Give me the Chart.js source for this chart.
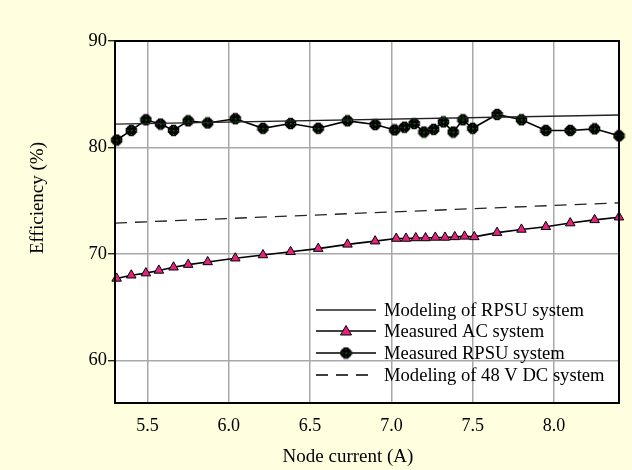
<!DOCTYPE html>
<html>
<head>
<meta charset="utf-8">
<script src="https://cdn.jsdelivr.net/npm/chart.js@4"></script>
<style>
  html, body { margin: 0; padding: 0; background: #ffffe0; }
  #wrap { width: 632px; height: 470px; }
</style>
</head>
<body>
<div id="wrap"><canvas id="effChart" width="632" height="470"></canvas></div>
<script>
// --- data ---
const modelX = [5.3, 8.4];
const modelRpsu = [82.2, 83.05];
const model48dc = [72.9, 74.8];

const acX = [5.31, 5.40, 5.49, 5.57, 5.66, 5.75, 5.87, 6.04, 6.21, 6.38, 6.55, 6.73, 6.90,
             7.03, 7.09, 7.15, 7.21, 7.27, 7.33, 7.39, 7.45, 7.51, 7.65, 7.80, 7.95, 8.10, 8.25, 8.40];
const acEff = [67.7, 68.0, 68.2, 68.45, 68.75, 69.0, 69.25, 69.6, 69.9, 70.2, 70.5, 70.9, 71.2,
               71.45, 71.45, 71.5, 71.5, 71.55, 71.55, 71.6, 71.65, 71.6, 72.0, 72.3, 72.55, 72.9, 73.2, 73.45];

const rpsuX = [5.31, 5.40, 5.49, 5.58, 5.66, 5.75, 5.87, 6.04, 6.21, 6.38, 6.55, 6.73, 6.90,
               7.02, 7.08, 7.14, 7.20, 7.26, 7.32, 7.38, 7.44, 7.50, 7.65, 7.80, 7.95, 8.10, 8.25, 8.40];
const rpsuEff = [80.7, 81.6, 82.6, 82.2, 81.6, 82.5, 82.3, 82.7, 81.8, 82.25, 81.8, 82.5, 82.15,
                 81.65, 81.9, 82.25, 81.45, 81.7, 82.4, 81.45, 82.6, 81.8, 83.1, 82.6, 81.6, 81.6, 81.75, 81.1];

const xTicks = [5.5, 6.0, 6.5, 7.0, 7.5, 8.0];
const yTicks = [60, 70, 80, 90];

const seriesNames = ['Modeling of RPSU system', 'Measured AC system',
                     'Measured RPSU system', 'Modeling of 48 V DC system'];

const SERIF = '"Liberation Serif", "DejaVu Serif", serif';

function pts(xs, ys) {
    return xs.map((x, i) => ({ x: x, y: ys[i] }));
}

// black blob with green specks, like the RPSU markers
function rpsuMarker() {
    const c = document.createElement('canvas');
    c.width = 13; c.height = 13;
    const g = c.getContext('2d');
    g.fillStyle = '#030503';
    g.beginPath();
    g.arc(6.5, 6.5, 5.5, 0, Math.PI * 2);
    g.fill();
    g.fillRect(4, 0.8, 5, 11.4);
    g.fillRect(0.8, 4, 11.4, 5);
    g.fillStyle = '#1f7a1f';
    g.fillRect(6, 6, 1.5, 1.5);
    g.fillRect(6, 2.5, 1, 1);
    g.fillRect(10, 6, 1, 1);
    g.fillRect(6, 10, 1, 1);
    g.fillRect(2.5, 6, 1, 1);
    return c;
}
const rpsuPoint = rpsuMarker();

// legend + frame + axis titles drawn on top
const decorPlugin = {
    id: 'decor',
    afterDraw(chart) {
        const ctx = chart.ctx;
        const a = chart.chartArea;
        ctx.save();
        ctx.strokeStyle = '#000';
        ctx.lineWidth = 2;
        ctx.strokeRect(a.left, a.top, a.right - a.left, a.bottom - a.top);

        ctx.fillStyle = '#000';
        ctx.font = '19px ' + SERIF;
        ctx.textAlign = 'center';
        ctx.textBaseline = 'middle';
        ctx.fillText('Node current (A)', 348, 457);
        ctx.save();
        ctx.translate(38, 198);
        ctx.rotate(-Math.PI / 2);
        ctx.fillText('Efficiency (%)', 0, 0);
        ctx.restore();

        // legend
        const x0 = 316, x1 = 376, tx = 384;
        const rows = [310, 331, 353, 375];
        ctx.textAlign = 'left';
        ctx.font = '18.6px ' + SERIF;
        rows.forEach((y, i) => {
            ctx.beginPath();
            ctx.strokeStyle = i === 0 ? '#222' : '#000';
            ctx.lineWidth = i === 0 ? 1.3 : 1.6;
            ctx.setLineDash(i === 3 ? [12, 8] : []);
            ctx.moveTo(x0, y);
            ctx.lineTo(i === 3 ? x1 - 6 : x1, y);
            ctx.stroke();
            ctx.setLineDash([]);
            const cx = (x0 + x1) / 2;
            if (i === 1) {
                ctx.beginPath();
                ctx.moveTo(cx, y - 5.5);
                ctx.lineTo(cx + 5.5, y + 4);
                ctx.lineTo(cx - 5.5, y + 4);
                ctx.closePath();
                ctx.fillStyle = '#e3247f';
                ctx.fill();
                ctx.strokeStyle = '#000';
                ctx.lineWidth = 1;
                ctx.stroke();
            } else if (i === 2) {
                ctx.drawImage(rpsuPoint, cx - 6.5, y - 6.5);
            }
            ctx.fillStyle = '#000';
            ctx.fillText(seriesNames[i], tx, y + 1);
        });
        ctx.restore();
    }
};

const plotBg = {
    id: 'plotBg',
    beforeDraw(chart) {
        const ctx = chart.ctx;
        const a = chart.chartArea;
        ctx.save();
        ctx.fillStyle = '#ffffe0';
        ctx.fillRect(0, 0, chart.width, chart.height);
        ctx.fillStyle = '#ffffff';
        ctx.fillRect(a.left, a.top, a.right - a.left, a.bottom - a.top);
        ctx.restore();
    }
};

document.addEventListener('DOMContentLoaded', function () {
    const ctx = document.getElementById('effChart').getContext('2d');

    new Chart(ctx, {
        type: 'line',
        data: {
            datasets: [{
                label: seriesNames[0],
                data: pts(modelX, modelRpsu),
                borderColor: '#222',
                borderWidth: 1.3,
                pointRadius: 0,
                fill: false
            }, {
                label: seriesNames[1],
                data: pts(acX, acEff),
                borderColor: '#000',
                borderWidth: 1.6,
                pointStyle: 'triangle',
                pointRadius: 5.5,
                pointBackgroundColor: '#e3247f',
                pointBorderColor: '#000',
                pointBorderWidth: 1,
                clip: 8,
                fill: false
            }, {
                label: seriesNames[2],
                data: pts(rpsuX, rpsuEff),
                borderColor: '#000',
                borderWidth: 1.6,
                pointStyle: rpsuPoint,
                pointRadius: 6,
                clip: 8,
                fill: false
            }, {
                label: seriesNames[3],
                data: pts(modelX, model48dc),
                borderColor: '#222',
                borderWidth: 1.3,
                borderDash: [12, 8],
                pointRadius: 0,
                fill: false
            }]
        },
        options: {
            responsive: false,
            animation: false,
            layout: { padding: { top: 41, right: 13, left: 0, bottom: 0 } },
            plugins: {
                legend: { display: false },
                tooltip: { enabled: false }
            },
            scales: {
                x: {
                    type: 'linear',
                    min: 5.3,
                    max: 8.4,
                    afterBuildTicks: (s) => { s.ticks = xTicks.map(v => ({ value: v })); },
                    afterFit: (s) => { s.height = 67; },
                    grid: { color: '#a8a8a8', lineWidth: 1.5, drawTicks: false },
                    border: { color: '#000', width: 2 },
                    ticks: {
                        padding: 12,
                        color: '#000',
                        font: { family: SERIF, size: 18 },
                        callback: (v) => v.toFixed(1)
                    }
                },
                y: {
                    min: 56,
                    max: 90,
                    afterBuildTicks: (s) => { s.ticks = yTicks.map(v => ({ value: v })); },
                    afterFit: (s) => { s.width = 115; },
                    grid: { color: '#a8a8a8', lineWidth: 1.5, tickLength: 7, tickColor: '#000', tickWidth: 1.2 },
                    border: { color: '#000', width: 2 },
                    ticks: {
                        padding: 1,
                        color: '#000',
                        font: { family: SERIF, size: 18.5 }
                    }
                }
            }
        },
        plugins: [plotBg, decorPlugin]
    });
});
</script>
</body>
</html>
